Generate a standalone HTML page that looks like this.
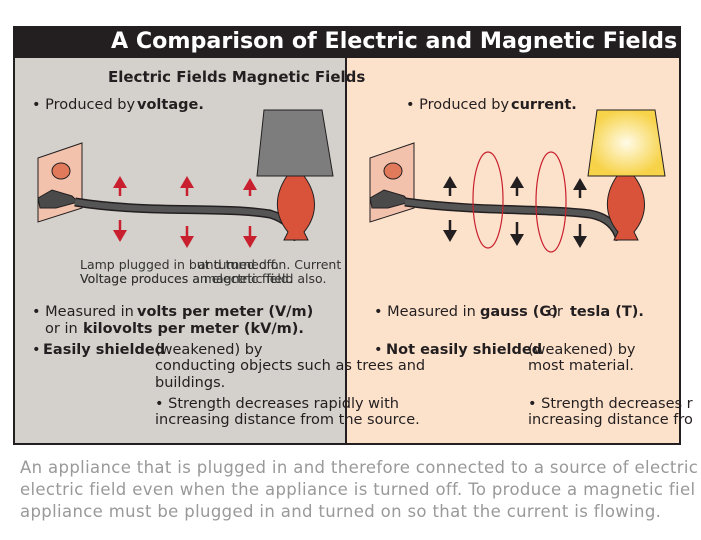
<!DOCTYPE html>
<html><head><meta charset="utf-8"><style>
*{margin:0;padding:0}
body{width:701px;height:540px;overflow:hidden;background:#fff;position:relative;font-family:"DejaVu Sans","Liberation Sans",sans-serif;color:#231f20}
.t{position:absolute;white-space:nowrap;font-size:14.5px;line-height:1}
b{font-weight:bold}
.s{font-size:12.5px}
.g{position:absolute;white-space:nowrap;font-size:16.5px;color:#999;left:20px;letter-spacing:0.35px}
</style></head><body>
<svg width="701" height="540" style="position:absolute;left:0;top:0">
<rect x="14" y="58" width="332" height="386" fill="#d4d0cb"/>
<rect x="346" y="58" width="334" height="386" fill="#fde2cb"/>
<rect x="13" y="26" width="667" height="32" fill="#231f20"/>
<rect x="14" y="27" width="666" height="417" fill="none" stroke="#231f20" stroke-width="2"/>
<line x1="346" y1="58" x2="346" y2="444" stroke="#231f20" stroke-width="2"/>
<defs><radialGradient id="lg"><stop offset="0" stop-color="#fffbe8"/><stop offset="1" stop-color="#f7d34a"/></radialGradient>
<g id="outlet"><polygon points="38,158 82,143 82,208 38,222" fill="#f2c2ad" stroke="#231f20"/>
<ellipse cx="61" cy="171" rx="9" ry="8" fill="#e07a5a" stroke="#231f20"/>
<path d="M38,198 L52,190 L72,196 L78,202 L56,208 L40,208Z" fill="#4a4a4a" stroke="#231f20"/></g>
</defs>
<use href="#outlet"/>
<path d="M75,202 C150,214 220,206 270,214 C290,220 296,232 298,240" fill="none" stroke="#231f20" stroke-width="9"/>
<path d="M75,202 C150,214 220,206 270,214 C290,220 296,232 298,240" fill="none" stroke="#555" stroke-width="6"/>
<polygon points="264,110 322,110 333,176 257,176" fill="#7d7d7d" stroke="#231f20"/>
<path d="M287,176 L304,176 C318,195 318,215 304,232 L308,240 L284,240 L288,232 C274,215 274,195 287,176Z" fill="#d9523a" stroke="#231f20"/>
<g fill="#c8202e" stroke="#c8202e" stroke-width="2.5">
<line x1="120" y1="186" x2="120" y2="196"/><polygon points="113,188 120,176 127,188" stroke="none"/>
<line x1="187" y1="186" x2="187" y2="196"/><polygon points="180,188 187,176 194,188" stroke="none"/>
<line x1="250" y1="186" x2="250" y2="196"/><polygon points="243,190 250,178 257,190" stroke="none"/>
<line x1="120" y1="220" x2="120" y2="232"/><polygon points="113,230 120,242 127,230" stroke="none"/>
<line x1="187" y1="226" x2="187" y2="238"/><polygon points="180,236 187,248 194,236" stroke="none"/>
<line x1="250" y1="226" x2="250" y2="238"/><polygon points="243,236 250,248 257,236" stroke="none"/>
</g>
<g transform="translate(332,0)"><use href="#outlet"/></g>
<path d="M405,202 C480,212 540,208 590,214 C612,218 618,232 620,240" fill="none" stroke="#231f20" stroke-width="9"/>
<path d="M405,202 C480,212 540,208 590,214 C612,218 618,232 620,240" fill="none" stroke="#555" stroke-width="6"/>
<polygon points="597,110 655,110 665,176 588,176" fill="url(#lg)" stroke="#231f20"/>
<path d="M617,176 L634,176 C648,195 648,215 634,232 L638,240 L614,240 L618,232 C604,215 604,195 617,176Z" fill="#d9523a" stroke="#231f20"/>
<g fill="none" stroke="#c8202e" stroke-width="1.2"><ellipse cx="488" cy="200" rx="15" ry="48"/><ellipse cx="551" cy="202" rx="15" ry="50"/></g>
<g fill="#231f20" stroke="#231f20" stroke-width="2.5">
<line x1="450" y1="186" x2="450" y2="196"/><polygon points="443,188 450,176 457,188" stroke="none"/>
<line x1="517" y1="186" x2="517" y2="196"/><polygon points="510,188 517,176 524,188" stroke="none"/>
<line x1="580" y1="188" x2="580" y2="198"/><polygon points="573,190 580,178 587,190" stroke="none"/>
<line x1="450" y1="220" x2="450" y2="232"/><polygon points="443,230 450,242 457,230" stroke="none"/>
<line x1="517" y1="222" x2="517" y2="234"/><polygon points="510,234 517,246 524,234" stroke="none"/>
<line x1="580" y1="224" x2="580" y2="236"/><polygon points="573,236 580,248 587,236" stroke="none"/>
</g>
</svg>
<div class="t" style="left:111px;top:30px;font-size:22.2px;font-weight:bold;color:#fff">A Comparison of Electric and Magnetic Fields</div>
<div class="t" style="left:108px;top:70px;font-size:15px;font-weight:bold">Electric Fields Magnetic Fields</div>
<div class="t" style="left:32px;top:98px">• Produced by</div><div class="t" style="left:137px;top:98px"><b>voltage.</b></div>
<div class="t" style="left:406px;top:98px">• Produced by</div><div class="t" style="left:511px;top:98px"><b>current.</b></div>
<div class="t s" style="left:80px;top:259px;color:#333">Lamp plugged in but turned off.</div>
<div class="t s" style="left:198px;top:259px;color:#333">and turned on. Current</div>
<div class="t s" style="left:80px;top:273px;color:#333">Voltage produces an electric field.</div>
<div class="t s" style="left:80px;top:273px;color:#333">Voltage produces a magnetic field also.</div>
<div class="t" style="left:32px;top:305px">• Measured in</div><div class="t" style="left:137px;top:305px"><b>volts per meter (V/m)</b></div>
<div class="t" style="left:45px;top:322px">or in</div><div class="t" style="left:83px;top:322px"><b>kilovolts per meter (kV/m).</b></div>
<div class="t" style="left:32px;top:343px">•</div><div class="t" style="left:43px;top:343px"><b>Easily shielded</b></div>
<div class="t" style="left:155px;top:343px">(weakened) by</div>
<div class="t" style="left:155px;top:359px">conducting objects such as trees and</div>
<div class="t" style="left:155px;top:376px">buildings.</div>
<div class="t" style="left:155px;top:397px">• Strength decreases rapidly with</div>
<div class="t" style="left:155px;top:413px">increasing distance from the source.</div>
<div class="t" style="left:374px;top:305px">• Measured in</div><div class="t" style="left:480px;top:305px"><b>gauss (G)</b></div>
<div class="t" style="left:548px;top:305px">or</div><div class="t" style="left:570px;top:305px"><b>tesla (T).</b></div>
<div class="t" style="left:374px;top:343px">•</div><div class="t" style="left:386px;top:343px"><b>Not easily shielded</b></div>
<div class="t" style="left:528px;top:343px">(weakened) by</div>
<div class="t" style="left:528px;top:359px">most material.</div>
<div class="t" style="left:528px;top:397px">• Strength decreases r</div>
<div class="t" style="left:528px;top:413px">increasing distance fro</div>
<div class="g" style="top:458px">An appliance that is plugged in and therefore connected to a source of electric</div>
<div class="g" style="top:480px">electric field even when the appliance is turned off. To produce a magnetic fiel</div>
<div class="g" style="top:502px">appliance must be plugged in and turned on so that the current is flowing.</div>
</body></html>
